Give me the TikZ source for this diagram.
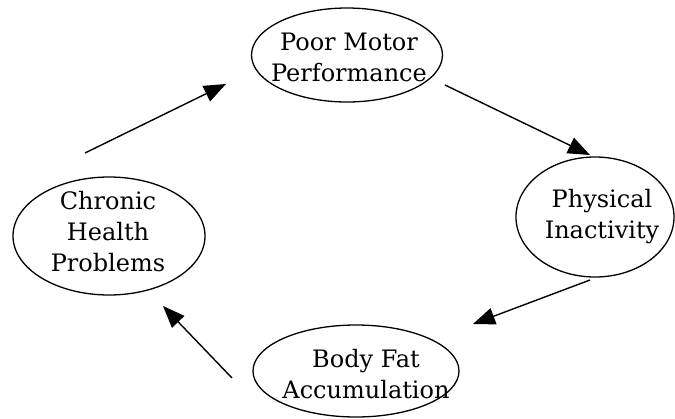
\documentclass[tikz,border=0pt]{standalone}
\usepackage{fontspec}
\setmainfont{DejaVu Serif}
\usetikzlibrary{shapes.geometric,arrows.meta}
\begin{document}
\begin{tikzpicture}[x=1pt,y=-1pt,
  oval/.style={draw,ellipse,line width=1.3pt,inner sep=0pt},
  lbl/.style={align=center,inner sep=0pt,font=\fontsize{24}{31}\selectfont},
  link/.style={line width=1.4pt,-{Triangle[length=22pt,width=17pt]}}]
\useasboundingbox (0,0) rectangle (675,418);
\node[oval,minimum width=191pt,minimum height=94pt] (pmp) at (347,55) {};
\node[lbl] (pmpt) at (349,57) {Poor Motor\\Performance};
\node[oval,minimum width=158pt,minimum height=120pt] (pi) at (595,217) {};
\node[lbl] (pit) at (602,217) {Physical\\Inactivity};
\node[oval,minimum width=192pt,minimum height=118pt] (chp) at (109,236) {};
\node[lbl] (chpt) at (108,232) {Chronic\\Health\\Problems};
\node[oval,minimum width=206pt,minimum height=92pt] (bfa) at (356,371) {};
\node[lbl] (bfat) at (366,374) {Body Fat\\Accumulation};
\coordinate (a1s) at (85,153); \coordinate (a1e) at (226,84);
\coordinate (a2s) at (445,85); \coordinate (a2e) at (590,155);
\coordinate (a3s) at (590,280); \coordinate (a3e) at (473,324);
\coordinate (a4s) at (232,378); \coordinate (a4e) at (163,306);
\draw[link] (a1s) -- (a1e);
\draw[link] (a2s) -- (a2e);
\draw[link] (a3s) -- (a3e);
\draw[link] (a4s) -- (a4e);
\end{tikzpicture}
\end{document}
